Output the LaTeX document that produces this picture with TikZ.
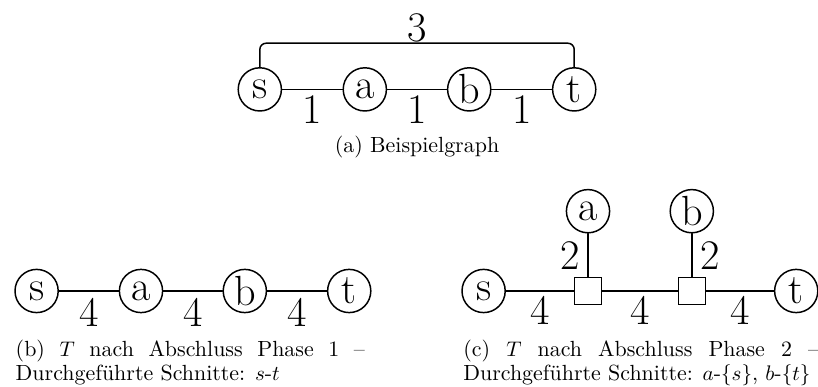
\documentclass[tikz,border=0pt]{standalone}
\begin{document}
\begin{tikzpicture}[
  line width=0.7pt,
  line cap=round,
  vertex/.style={
    circle, draw, inner sep=0pt, minimum size=0.72cm,
    font=\fontsize{20}{23}\selectfont
  },
  cutbox/.style={
    rectangle, draw, fill=white, inner sep=0pt, minimum size=0.45cm
  },
  weight/.style={
    inner sep=0pt, font=\fontsize{20}{23}\selectfont
  },
  caption/.style={
    inner sep=0pt, font=\fontsize{10.4}{11.5}\selectfont,
    execute at begin node={\hyphenpenalty=10000}
  },
  subcap/.style={
    caption, anchor=north west, align=justify
  }
]
  \useasboundingbox (0,0) rectangle (13.633,6.45);

  % (a) Beispielgraph
  \node[vertex] (as) at (4.33,4.96) {s};
  \node[vertex] (aa) at (6.08,4.96) {a};
  \node[vertex] (ab) at (7.82,4.96) {b};
  \node[vertex] (at) at (9.57,4.96) {t};
  \coordinate (abar) at (6.95,5.73);

  \draw (as) -- node[weight, yshift=-0.33cm] (wsa) {1} (aa);
  \draw (aa) -- node[weight, yshift=-0.33cm] (wab) {1} (ab);
  \draw (ab) -- node[weight, yshift=-0.33cm] (wbt) {1} (at);
  \draw[rounded corners=3pt]
    (as.north) |- (abar) -| (at.north);
  \node[weight, yshift=0.25cm] (wst) at (abar) {3};

  \node[caption, anchor=base] (capa) at (6.95,3.9)
    {(a) Beispielgraph};

  % (b) nach Phase 1
  \node[vertex] (bs) at (0.61,1.6) {s};
  \node[vertex] (ba) at (2.35,1.6) {a};
  \node[vertex] (bb) at (4.08,1.6) {b};
  \node[vertex] (bt) at (5.82,1.6) {t};

  \draw (bs) -- node[weight, yshift=-0.35cm] (vsa) {4} (ba);
  \draw (ba) -- node[weight, yshift=-0.35cm] (vab) {4} (bb);
  \draw (bb) -- node[weight, yshift=-0.35cm] (vbt) {4} (bt);

  \node[subcap, text width=5.82cm] (capb) at (0.25,0.8)
    {(b) $T$ nach Abschluss Phase 1 --
     Durchgeführte Schnitte: $s$-$t$};

  % (c) nach Phase 2
  \node[vertex] (cs) at (8.06,1.6) {s};
  \node[cutbox] (cx1) at (9.8,1.6) {};
  \node[cutbox] (cx2) at (11.53,1.6) {};
  \node[vertex] (ct) at (13.27,1.6) {t};
  \node[vertex] (ca) at (9.8,2.93) {a};
  \node[vertex] (cb) at (11.53,2.93) {b};

  \draw (cs) -- node[weight, yshift=-0.33cm] (usx) {4} (cx1);
  \draw (cx1) -- node[weight, yshift=-0.33cm] (uxx) {4} (cx2);
  \draw (cx2) -- node[weight, yshift=-0.33cm] (uxt) {4} (ct);
  \draw (ca) -- node[weight, xshift=-0.3cm] (uax) {2} (cx1);
  \draw (cb) -- node[weight, xshift=0.3cm] (ubx) {2} (cx2);

  \node[subcap, text width=5.93cm] (capc) at (7.71,0.8)
    {(c) $T$ nach Abschluss Phase 2 --
     Durchgeführte Schnitte: $a$-$\{s\}$, $b$-$\{t\}$};
\end{tikzpicture}
\end{document}
